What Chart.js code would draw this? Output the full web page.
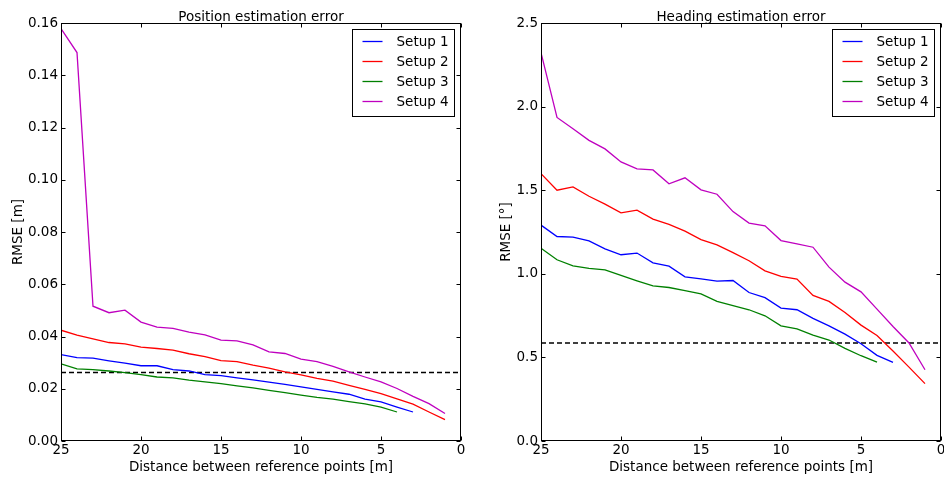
<html><head>
<script src="https://cdn.jsdelivr.net/npm/chart.js"></script>
<style>
  body { margin: 0; background: #fff; }
  .panel { position: absolute; top: 0; width: 472px; height: 481px; }
</style>
</head>
<body>
<div class="panel" style="left:0"><canvas id="pos" width="472" height="481"></canvas></div>
<div class="panel" style="left:472px"><canvas id="head" width="472" height="481"></canvas></div>

<script>
// distance between reference points [m]
const distances = [25, 24, 23, 22, 21, 20, 19, 18, 17, 16, 15, 14, 13, 12, 11, 10, 9, 8, 7, 6, 5, 4, 3, 2, 1];
const setupNames = ['Setup 1', 'Setup 2', 'Setup 3', 'Setup 4'];
const setupColors = ['#0000ff', '#ff0000', '#008000', '#bf00bf'];

// position RMSE [m]
const posSetup1 = [0.0331, 0.0319, 0.0317, 0.0307, 0.0298, 0.0288, 0.0288, 0.0273, 0.0268, 0.0254, 0.0250, 0.0242, 0.0234, 0.0225, 0.0217, 0.0207, 0.0198, 0.0188, 0.0179, 0.0160, 0.0150, 0.0130, 0.0111];
const posSetup2 = [0.0424, 0.0405, 0.0391, 0.0377, 0.0372, 0.0359, 0.0354, 0.0348, 0.0334, 0.0323, 0.0308, 0.0304, 0.0290, 0.0279, 0.0265, 0.0253, 0.0240, 0.0229, 0.0213, 0.0198, 0.0181, 0.0161, 0.0141, 0.0111, 0.0082];
const posSetup3 = [0.0295, 0.0276, 0.0273, 0.0268, 0.0262, 0.0254, 0.0245, 0.0242, 0.0233, 0.0226, 0.0220, 0.0211, 0.0203, 0.0194, 0.0185, 0.0176, 0.0167, 0.0160, 0.0151, 0.0142, 0.0130, 0.0111];
const posSetup4 = [0.1579, 0.1487, 0.0516, 0.0491, 0.0501, 0.0455, 0.0436, 0.0431, 0.0417, 0.0406, 0.0386, 0.0383, 0.0368, 0.0341, 0.0335, 0.0313, 0.0304, 0.0286, 0.0265, 0.0245, 0.0226, 0.0201, 0.0171, 0.0143, 0.0105];
const posThreshold = 0.0262;

// heading RMSE [deg]
const headSetup1 = [1.291, 1.223, 1.219, 1.197, 1.149, 1.114, 1.124, 1.066, 1.046, 0.982, 0.970, 0.956, 0.960, 0.888, 0.857, 0.795, 0.785, 0.733, 0.689, 0.639, 0.582, 0.512, 0.470];
const headSetup2 = [1.599, 1.500, 1.520, 1.464, 1.417, 1.365, 1.381, 1.327, 1.295, 1.255, 1.204, 1.173, 1.127, 1.078, 1.018, 0.984, 0.968, 0.871, 0.835, 0.769, 0.693, 0.631, 0.538, 0.442, 0.343];
const headSetup3 = [1.153, 1.084, 1.048, 1.032, 1.024, 0.990, 0.958, 0.928, 0.918, 0.900, 0.880, 0.835, 0.809, 0.785, 0.749, 0.689, 0.671, 0.633, 0.604, 0.554, 0.510, 0.472];
const headSetup4 = [2.323, 1.935, 1.868, 1.798, 1.747, 1.669, 1.627, 1.621, 1.538, 1.574, 1.502, 1.476, 1.372, 1.303, 1.287, 1.199, 1.179, 1.159, 1.040, 0.950, 0.892, 0.789, 0.685, 0.586, 0.426];
const headThreshold = 0.586;

const xTicks = [25, 20, 15, 10, 5, 0];
const posTicks = [0, 0.02, 0.04, 0.06, 0.08, 0.10, 0.12, 0.14, 0.16];
const headTicks = [0, 0.5, 1.0, 1.5, 2.0, 2.5];

const FONT = '"DejaVu Sans", sans-serif';
const FS = 13.5;

// matplotlib-ish frame: box, inward ticks, title, legend
const mplFrame = {
  id: 'mplFrame',
  afterDraw(chart, args, opts) {
    const { ctx, chartArea: a, scales } = chart;
    const L = Math.round(a.left) + 0.5, R = Math.round(a.right) - 0.5;
    const T = Math.round(a.top) + 0.5, B = Math.round(a.bottom) - 0.5;
    ctx.save();
    ctx.strokeStyle = '#000';
    ctx.lineWidth = 1;
    ctx.beginPath();
    const tl = 4;
    scales.x.ticks.forEach(t => {
      const p = Math.round(scales.x.getPixelForValue(t.value)) + 0.5;
      ctx.moveTo(p, B); ctx.lineTo(p, B - tl);
      ctx.moveTo(p, T); ctx.lineTo(p, T + tl);
    });
    scales.y.ticks.forEach(t => {
      const p = Math.round(scales.y.getPixelForValue(t.value)) + 0.5;
      ctx.moveTo(L, p); ctx.lineTo(L + tl, p);
      ctx.moveTo(R, p); ctx.lineTo(R - tl, p);
    });
    ctx.stroke();
    ctx.strokeRect(L, T, R - L, B - T);

    // title
    ctx.fillStyle = '#000';
    ctx.font = FS + 'px ' + FONT;
    ctx.textAlign = 'center';
    ctx.textBaseline = 'alphabetic';
    ctx.fillText(opts.title, (a.left + a.right) / 2, 20.5);

    // legend
    const bw = 102, bh = 87;
    const bx = Math.round(a.right - 7 - bw) + 0.5, by = Math.round(a.top + 6) + 0.5;
    ctx.fillStyle = '#fff';
    ctx.fillRect(bx, by, bw, bh);
    ctx.strokeStyle = '#000';
    ctx.strokeRect(bx, by, bw, bh);
    ctx.textAlign = 'left';
    ctx.textBaseline = 'middle';
    chart.data.datasets.forEach((ds, i) => {
      if (!ds.label) return;
      const y = by + 12 + i * 20;
      ctx.strokeStyle = ds.borderColor;
      ctx.lineWidth = 1.3;
      ctx.beginPath();
      ctx.moveTo(bx + 10, y); ctx.lineTo(bx + 30, y);
      ctx.stroke();
      ctx.fillStyle = '#000';
      ctx.fillText(ds.label, bx + 44, y + 1);
    });
    ctx.restore();
  }
};

function points(values) {
  return values.map((v, i) => ({ x: distances[i], y: v }));
}

function makeChart(id, cfg) {
  const datasets = cfg.series.map((s, i) => ({
    label: setupNames[i],
    data: points(s),
    borderColor: setupColors[i],
    borderWidth: 1.3,
    pointRadius: 0,
    tension: 0,
    fill: false
  }));
  datasets.push({
    label: '',
    data: [{ x: 25, y: cfg.threshold }, { x: 0, y: cfg.threshold }],
    borderColor: '#000',
    borderWidth: 1.4,
    borderDash: [5, 3],
    pointRadius: 0,
    fill: false
  });

  return new Chart(document.getElementById(id), {
    type: 'line',
    data: { datasets },
    plugins: [mplFrame],
    options: {
      responsive: false,
      animation: false,
      layout: { padding: { left: 0, right: cfg.padRight, top: 23, bottom: 0 } },
      plugins: {
        legend: { display: false },
        tooltip: { enabled: false },
        mplFrame: { title: cfg.title }
      },
      scales: {
        x: {
          type: 'linear',
          reverse: true,
          min: 0,
          max: 25,
          afterBuildTicks: s => { s.ticks = xTicks.map(v => ({ value: v })); },
          afterFit: s => { s.height = 40; s.paddingLeft = 0; s.paddingRight = 0; },
          grid: { display: false, drawTicks: false },
          border: { display: false },
          ticks: { color: '#000', padding: 1, font: { family: FONT, size: FS }, maxRotation: 0 },
          title: {
            display: true,
            text: 'Distance between reference points [m]',
            color: '#000',
            font: { family: FONT, size: FS },
            padding: { top: 0, bottom: 5 }
          }
        },
        y: {
          min: 0,
          max: cfg.yMax,
          afterBuildTicks: s => { s.ticks = cfg.yTicks.map(v => ({ value: v })); },
          afterFit: s => { s.width = cfg.yWidth; s.paddingTop = 0; s.paddingBottom = 0; },
          grid: { display: false, drawTicks: false },
          border: { display: false },
          ticks: {
            color: '#000',
            padding: 3,
            font: { family: FONT, size: FS },
            callback: v => v.toFixed(cfg.decimals)
          },
          title: {
            display: true,
            text: cfg.yTitle,
            color: '#000',
            font: { family: FONT, size: FS },
            padding: { top: cfg.yTitlePad, bottom: 0 }
          }
        }
      }
    }
  });
}

makeChart('pos', {
  title: 'Position estimation error',
  series: [posSetup1, posSetup2, posSetup3, posSetup4],
  threshold: posThreshold,
  yMax: 0.16,
  yTicks: posTicks,
  decimals: 2,
  yTitle: 'RMSE [m]',
  yWidth: 61,
  yTitlePad: 10,
  padRight: 11
});

makeChart('head', {
  title: 'Heading estimation error',
  series: [headSetup1, headSetup2, headSetup3, headSetup4],
  threshold: headThreshold,
  yMax: 2.5,
  yTicks: headTicks,
  decimals: 1,
  yTitle: 'RMSE [°]',
  yWidth: 69,
  yTitlePad: 26,
  padRight: 3
});
</script>
</body></html>
